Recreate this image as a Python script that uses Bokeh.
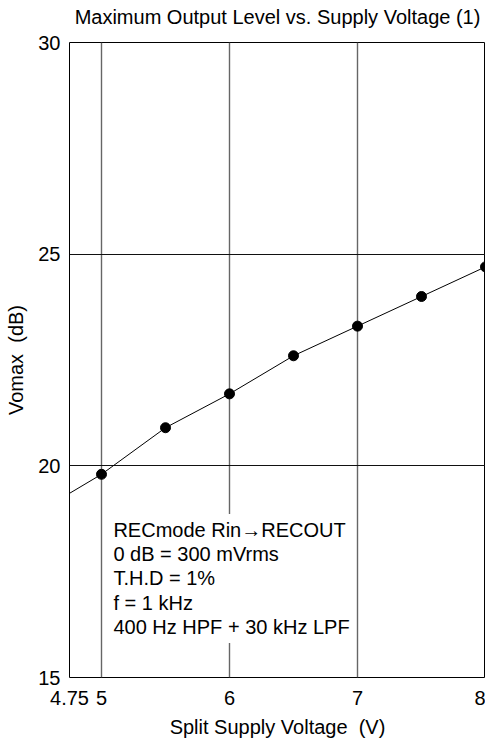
from bokeh.plotting import figure
from bokeh.models import FixedTicker, Label, Range1d, Title
from bokeh.embed import file_html
from bokeh.resources import INLINE

# ---- data ----
volts = [5.0, 5.5, 6.0, 6.5, 7.0, 7.5, 8.0]
vomax = [19.8, 20.9, 21.7, 22.6, 23.3, 24.0, 24.7]
# curve as drawn (extends to the left edge of the chart)
trace_x = [4.75, 5.0, 5.5, 6.0, 6.5, 7.0, 7.5, 8.0]
trace_y = [19.35, 19.8, 20.9, 21.7, 22.6, 23.3, 24.0, 24.7]

x_ticks = [4.75, 5, 6, 7, 8]
x_tick_labels = ["4.75", "5", "6", "7", "8"]
y_ticks = [15, 20, 25, 30]
y_tick_labels = ["15", "20", "25", "30"]

title_text = "Maximum Output Level vs. Supply Voltage (1)"
x_label = "Split Supply Voltage \u00a0(V)"
y_label = "Vomax \u00a0(dB)"
note_lines = [
    "RECmode Rin\u2192RECOUT",
    "0 dB = 300 mVrms",
    "T.H.D = 1%",
    "f = 1 kHz",
    "400 Hz HPF + 30 kHz LPF",
]

FONT = "Liberation Sans"
FS = "20px"
X0, X1 = 4.75, 8
Y0, Y1 = 15, 30

p = figure(
    width=485, height=740,
    x_range=Range1d(X0, X1), y_range=Range1d(Y0, Y1),
    output_backend="svg", toolbar_location=None,
    min_border_left=69, min_border_right=0,
    min_border_top=42, min_border_bottom=62,
)
p.background_fill_color = "white"
p.border_fill_color = "white"
p.outline_line_color = "black"
p.outline_line_width = 1

for ax in (p.xaxis[0], p.yaxis[0]):
    ax.axis_line_color = None
    ax.major_tick_line_color = None
    ax.minor_tick_line_color = None
    ax.major_tick_out = 0
    ax.major_tick_in = 0
    ax.minor_tick_out = 0
    ax.minor_tick_in = 0
    ax.major_label_text_font = FONT
    ax.major_label_text_font_size = FS
    ax.major_label_text_color = "black"
    ax.axis_label_text_font = FONT
    ax.axis_label_text_font_size = FS
    ax.axis_label_text_font_style = "normal"
    ax.axis_label_text_color = "black"

p.xaxis[0].ticker = FixedTicker(ticks=x_ticks)
p.xaxis[0].major_label_overrides = {t: l for t, l in zip(x_ticks, x_tick_labels)}
p.xaxis[0].axis_label = x_label
p.xaxis[0].major_label_standoff = 13
p.xaxis[0].axis_label_standoff = 8

p.yaxis[0].ticker = FixedTicker(ticks=y_ticks)
p.yaxis[0].major_label_overrides = {t: l for t, l in zip(y_ticks, y_tick_labels)}
p.yaxis[0].axis_label = y_label
p.yaxis[0].major_label_standoff = 9
p.yaxis[0].axis_label_standoff = 8

p.xgrid.grid_line_color = "#666666"
p.xgrid.grid_line_width = 1.4
p.ygrid.grid_line_color = "#111111"
p.ygrid.grid_line_width = 1

p.line(trace_x, trace_y, line_color="black", line_width=1)
p.scatter(volts, vomax, size=10, fill_color="black", line_color="black")

# invisible spacer between frame and title, then the title itself
spacer = Title(text=" ", text_font_size="1px", standoff=12)
p.add_layout(spacer, "above")
main_title = Title(
    text=title_text, align="center", standoff=0,
    text_font=FONT, text_font_size=FS, text_font_style="normal",
    text_color="black",
)
p.add_layout(main_title, "above")

note = Label(
    x=5.054, y=18.86, anchor="top_left",
    text="\n".join(note_lines),
    text_font=FONT, text_font_size=FS, text_color="black",
    text_line_height=1.1,
    background_fill_color="white", padding=5,
)
p.add_layout(note)

open("out.html", "w").write(file_html(p, INLINE))
